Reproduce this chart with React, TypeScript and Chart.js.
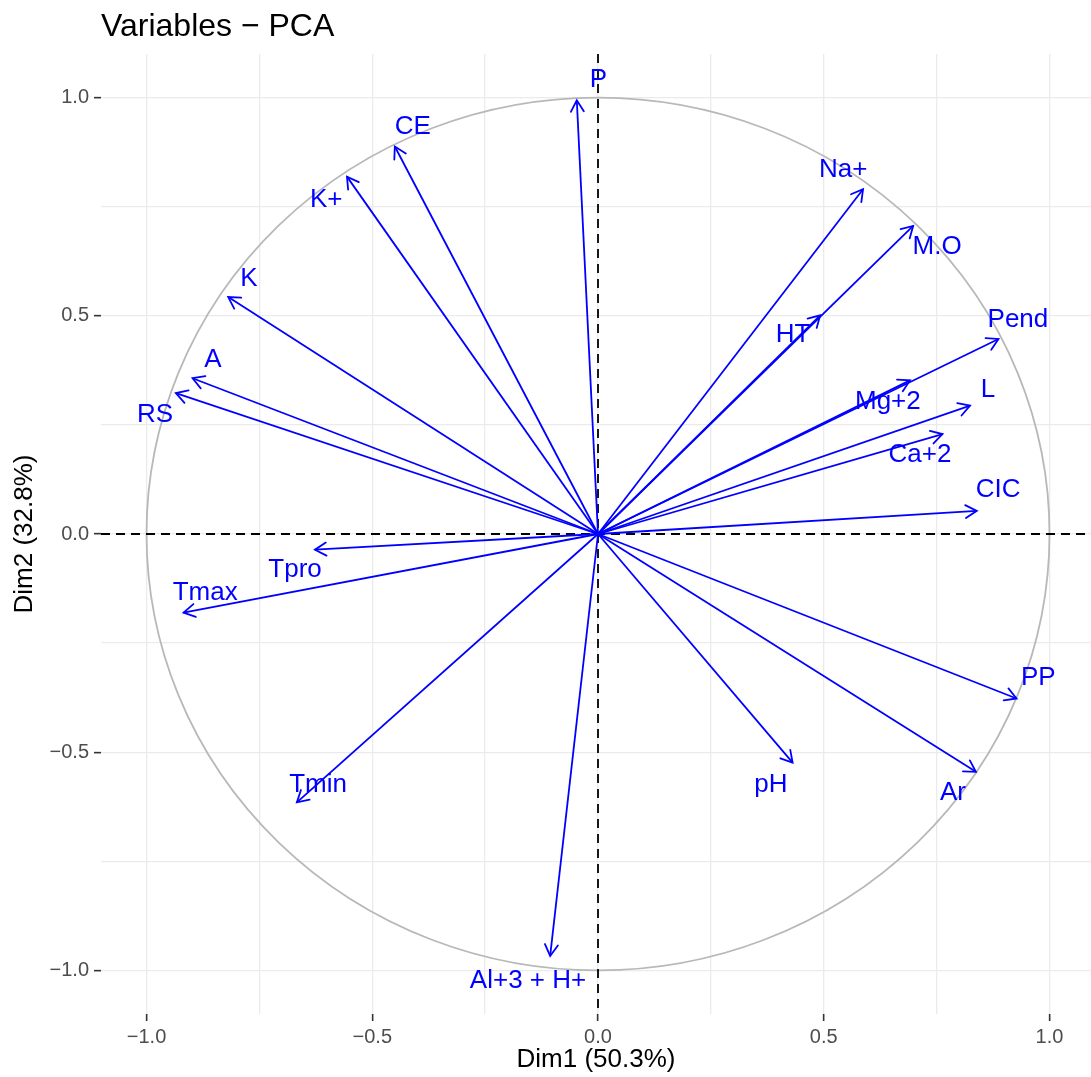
import React, { useEffect, useRef } from 'react';
import { Chart, registerables } from 'chart.js';

Chart.register(...registerables);

// ---- data ----
const variables = ['P', 'CE', 'K+', 'K', 'A', 'RS', 'Tpro', 'Tmax', 'Tmin', 'Al+3 + H+', 'pH', 'Ar', 'PP', 'CIC', 'Ca+2', 'L', 'Mg+2', 'Pend', 'HT', 'M.O', 'Na+'];
const dim1 = [-0.047, -0.450, -0.556, -0.819, -0.898, -0.935, -0.627, -0.918, -0.667, -0.106, 0.431, 0.837, 0.927, 0.839, 0.763, 0.824, 0.691, 0.887, 0.492, 0.698, 0.587];
const dim2 = [0.994, 0.888, 0.819, 0.543, 0.357, 0.323, -0.036, -0.180, -0.615, -0.967, -0.524, -0.545, -0.377, 0.053, 0.229, 0.294, 0.352, 0.447, 0.501, 0.706, 0.790];
// label anchor positions (data units), as placed in the reference
const labelX = [0.001, -0.410, -0.602, -0.773, -0.853, -0.981, -0.671, -0.870, -0.620, -0.155, 0.383, 0.786, 0.975, 0.886, 0.713, 0.864, 0.642, 0.930, 0.432, 0.751, 0.543];
const labelY = [1.044, 0.936, 0.768, 0.587, 0.401, 0.275, -0.080, -0.133, -0.573, -1.021, -0.573, -0.592, -0.328, 0.103, 0.183, 0.333, 0.305, 0.493, 0.459, 0.661, 0.837];

const tickValues = [-1, -0.5, 0, 0.5, 1];
const tickLabels = ['\u22121.0', '\u22120.5', '0.0', '0.5', '1.0'];
const gridValues = [-1, -0.75, -0.5, -0.25, 0, 0.25, 0.5, 0.75, 1];

const titleText = 'Variables \u2212 PCA';
const xTitle = 'Dim1 (50.3%)';
const yTitle = 'Dim2 (32.8%)';

const FONT = '"Liberation Sans", Arial, Helvetica, sans-serif';
const BLUE = '#0000FF';

const isMajor = (v: number) => tickValues.some((t) => Math.abs(t - v) < 1e-9);
const labelFor = (v: number) => {
  const i = tickValues.findIndex((t) => Math.abs(t - v) < 1e-9);
  return i >= 0 ? tickLabels[i] : '';
};

const pcaPlugin = {
  id: 'pcaDecor',
  beforeDatasetsDraw(chart: any) {
    const { ctx, scales, chartArea } = chart;
    const x = scales.x, y = scales.y;
    const cx = x.getPixelForValue(0);
    const cy = y.getPixelForValue(0);
    const rx = x.getPixelForValue(1) - cx;
    const ry = cy - y.getPixelForValue(1);
    ctx.save();
    ctx.beginPath();
    ctx.rect(chartArea.left, chartArea.top, chartArea.right - chartArea.left, chartArea.bottom - chartArea.top);
    ctx.clip();
    ctx.beginPath();
    ctx.ellipse(cx, cy, rx, ry, 0, 0, Math.PI * 2);
    ctx.strokeStyle = '#B8B8B8';
    ctx.lineWidth = 1.8;
    ctx.stroke();
    ctx.setLineDash([9, 6]);
    ctx.strokeStyle = '#000000';
    ctx.lineWidth = 1.8;
    ctx.beginPath();
    ctx.moveTo(chartArea.left, cy);
    ctx.lineTo(chartArea.right, cy);
    ctx.moveTo(cx, chartArea.top);
    ctx.lineTo(cx, chartArea.bottom);
    ctx.stroke();
    ctx.restore();
  },
  afterDatasetsDraw(chart: any) {
    const { ctx, scales } = chart;
    const x = scales.x, y = scales.y;
    const ox = x.getPixelForValue(0);
    const oy = y.getPixelForValue(0);
    ctx.save();
    ctx.strokeStyle = BLUE;
    ctx.lineWidth = 1.8;
    ctx.lineCap = 'round';
    const len = 13;
    const ang = Math.PI / 6;
    for (let i = 0; i < variables.length; i++) {
      const tx = x.getPixelForValue(dim1[i]);
      const ty = y.getPixelForValue(dim2[i]);
      const a = Math.atan2(ty - oy, tx - ox);
      ctx.beginPath();
      ctx.moveTo(tx - len * Math.cos(a - ang), ty - len * Math.sin(a - ang));
      ctx.lineTo(tx, ty);
      ctx.lineTo(tx - len * Math.cos(a + ang), ty - len * Math.sin(a + ang));
      ctx.stroke();
    }
    ctx.fillStyle = BLUE;
    ctx.font = `26px ${FONT}`;
    ctx.textAlign = 'center';
    ctx.textBaseline = 'middle';
    for (let i = 0; i < variables.length; i++) {
      ctx.fillText(variables[i], x.getPixelForValue(labelX[i]), y.getPixelForValue(labelY[i]) + 1);
    }
    ctx.restore();
  },
};

export default function App() {
  const ref = useRef<HTMLCanvasElement | null>(null);

  useEffect(() => {
    if (!ref.current) return;
    const datasets = variables.map((name, i) => ({
      label: name,
      data: [
        { x: 0, y: 0 },
        { x: dim1[i], y: dim2[i] },
      ],
      showLine: true,
      borderColor: BLUE,
      backgroundColor: BLUE,
      borderWidth: 1.8,
      pointRadius: 0,
      pointHoverRadius: 0,
    }));

    const gridCommon = {
      color: '#EBEBEB',
      lineWidth: 1.3,
      drawTicks: true,
      tickLength: 7,
      tickWidth: 1.6,
      tickColor: (c: any) => (c.tick && isMajor(c.tick.value) ? '#333333' : 'rgba(0,0,0,0)'),
    };

    const chart = new Chart(ref.current, {
      type: 'scatter',
      data: { datasets },
      plugins: [pcaPlugin],
      options: {
        animation: false,
        responsive: false,
        events: [],
        layout: { padding: 0 },
        plugins: {
          legend: { display: false },
          tooltip: { enabled: false },
          title: {
            display: true,
            text: titleText,
            align: 'start',
            fullSize: false,
            color: '#000000',
            font: { family: FONT, size: 32, weight: 'normal' },
            padding: { top: 8, bottom: 7.6 },
          },
        },
        scales: {
          x: {
            type: 'linear',
            min: -1.1008,
            max: 1.0919,
            afterBuildTicks: (s: any) => {
              s.ticks = gridValues.map((v) => ({ value: v }));
            },
            afterFit: (s: any) => {
              s.height = 63;
            },
            border: { display: false },
            grid: gridCommon,
            ticks: {
              autoSkip: false,
              maxRotation: 0,
              padding: 4,
              color: '#4D4D4D',
              font: { family: FONT, size: 20 },
              callback: (v: any) => labelFor(Number(v)),
            },
            title: {
              display: true,
              text: xTitle,
              color: '#000000',
              font: { family: FONT, size: 26 },
              padding: { top: 0, bottom: 2 },
            },
          },
          y: {
            type: 'linear',
            min: -1.1,
            max: 1.1,
            afterBuildTicks: (s: any) => {
              s.ticks = gridValues.map((v) => ({ value: v }));
            },
            afterFit: (s: any) => {
              s.width = 101;
            },
            border: { display: false },
            grid: gridCommon,
            ticks: {
              autoSkip: false,
              padding: 5,
              color: '#4D4D4D',
              font: { family: FONT, size: 20 },
              callback: (v: any) => labelFor(Number(v)),
            },
            title: {
              display: true,
              text: yTitle,
              color: '#000000',
              font: { family: FONT, size: 26 },
              padding: { top: 9, bottom: 0 },
            },
          },
        },
      },
    } as any);
    return () => chart.destroy();
  }, []);

  return (
    <div style={{ position: 'absolute', left: 0, top: 0, width: 1091, height: 1077, background: '#FFFFFF' }}>
      <canvas ref={ref} width={1091} height={1077} style={{ display: 'block' }} />
    </div>
  );
}
